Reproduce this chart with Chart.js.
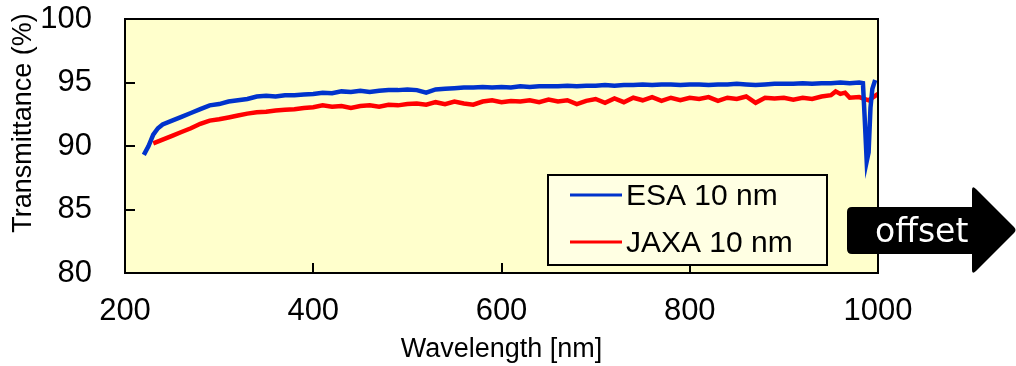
<!DOCTYPE html>
<html>
<head>
<meta charset="utf-8">
<script src="https://cdn.jsdelivr.net/npm/chart.js@4.4.1/dist/chart.umd.min.js"></script>
<style>
  html, body { margin: 0; padding: 0; background: #fff; }
  #wrap { width: 1016px; height: 366px; position: relative; }
</style>
</head>
<body>
<div id="wrap"><canvas id="lineChart" width="1016" height="366"></canvas></div>
<script>
// ESA 10 nm
var esaWavelength = [220, 225, 230, 235, 240, 250, 260, 270, 280, 290, 300, 310, 320, 330, 340, 350, 360, 370, 380, 390,
    400, 410, 420, 430, 440, 450, 460, 470, 480, 490, 500, 510, 520, 530, 540, 550, 560, 570, 580, 590,
    600, 610, 620, 630, 640, 650, 660, 670, 680, 690, 700, 710, 720, 730, 740, 750, 760, 770, 780, 790,
    800, 810, 820, 830, 840, 850, 860, 870, 880, 890, 900, 910, 920, 930, 940, 950, 960, 970, 980, 984,
    986, 988, 990, 992, 994, 997];
var esaValues = [89.3, 90.0, 90.9, 91.4, 91.7, 92.0, 92.3, 92.6, 92.9, 93.2, 93.3, 93.5, 93.6, 93.7, 93.9, 93.95, 93.9, 94.0, 94.0, 94.05,
    94.1, 94.2, 94.15, 94.3, 94.25, 94.35, 94.25, 94.35, 94.4, 94.4, 94.45, 94.4, 94.2, 94.45, 94.5, 94.55, 94.6, 94.6, 94.65, 94.6,
    94.65, 94.6, 94.7, 94.65, 94.7, 94.7, 94.7, 94.75, 94.7, 94.75, 94.75, 94.8, 94.75, 94.8, 94.8, 94.85, 94.8, 94.85, 94.85, 94.8,
    94.85, 94.85, 94.8, 94.85, 94.85, 94.9, 94.85, 94.8, 94.85, 94.9, 94.9, 94.9, 94.95, 94.9, 94.95, 94.95, 95.0, 94.95, 95.0, 94.95,
    92.0, 88.8, 89.5, 93.0, 94.5, 95.2];

// JAXA 10 nm
var jaxaWavelength = [230, 240, 250, 260, 270, 280, 290, 300, 310, 320, 330, 340, 350, 360, 370, 380, 390,
    400, 410, 420, 430, 440, 450, 460, 470, 480, 490, 500, 510, 520, 530, 540, 550, 560, 570, 580, 590,
    600, 610, 620, 630, 640, 650, 660, 670, 680, 690, 700, 710, 720, 730, 740, 750, 760, 770, 780, 790,
    800, 810, 820, 830, 840, 850, 860, 870, 880, 890, 900, 910, 920, 930, 940, 950, 955, 960, 965, 970,
    980, 990, 1000];
var jaxaValues = [90.2, 90.5, 90.8, 91.1, 91.4, 91.75, 92.0, 92.1, 92.25, 92.4, 92.55, 92.65, 92.7, 92.8, 92.85, 92.9, 93.0,
    93.05, 93.2, 93.1, 93.15, 93.0, 93.15, 93.2, 93.1, 93.25, 93.2, 93.3, 93.35, 93.25, 93.45, 93.3, 93.5, 93.35, 93.25, 93.5, 93.6,
    93.45, 93.55, 93.5, 93.6, 93.45, 93.65, 93.5, 93.6, 93.3, 93.55, 93.7, 93.4, 93.75, 93.45, 93.8, 93.6, 93.85, 93.55, 93.8, 93.6,
    93.8, 93.7, 93.85, 93.55, 93.8, 93.7, 93.9, 93.4, 93.8, 93.75, 93.8, 93.65, 93.8, 93.7, 93.9, 94.0, 94.3, 94.1, 94.2, 93.8,
    93.85, 93.6, 94.1];

var xTicks = [200, 400, 600, 800, 1000];
var yTicks = [80, 85, 90, 95, 100];

function toPoints(xs, ys) {
    var pts = [];
    for (var i = 0; i < xs.length; i++) {
        pts.push({x: xs[i], y: ys[i]});
    }
    return pts;
}

var frameAndExtras = {
    id: 'frameAndExtras',
    beforeDatasetsDraw: function(chart) {
        var c = chart.ctx, a = chart.chartArea;
        c.save();
        c.fillStyle = '#FFFFCC';
        c.fillRect(a.left, a.top, a.right - a.left, a.bottom - a.top);
        c.restore();
    },
    afterDatasetsDraw: function(chart) {
        var c = chart.ctx, a = chart.chartArea;
        var xs = chart.scales.x, ys = chart.scales.y;
        c.save();
        // inward ticks
        c.strokeStyle = '#000';
        c.lineWidth = 2;
        c.beginPath();
        xTicks.forEach(function(v) {
            var px = Math.round(xs.getPixelForValue(v));
            c.moveTo(px, a.bottom);
            c.lineTo(px, a.bottom - 10);
        });
        yTicks.forEach(function(v) {
            var py = Math.round(ys.getPixelForValue(v));
            c.moveTo(a.left, py);
            c.lineTo(a.left + 10, py);
        });
        c.stroke();

        // legend box
        var lx = 548, ly = 175, lw = 279, lh = 90;
        c.fillStyle = '#FFFFE3';
        c.fillRect(lx, ly, lw, lh);
        c.lineWidth = 2;
        c.strokeRect(lx, ly, lw, lh);
        c.font = '30px "Liberation Sans", Arial, sans-serif';
        c.textBaseline = 'alphabetic';
        c.textAlign = 'left';
        chart.data.datasets.forEach(function(ds, i) {
            var yy = 195 + i * 47;
            c.strokeStyle = ds.borderColor;
            c.lineWidth = 3;
            c.beginPath();
            c.moveTo(570, yy);
            c.lineTo(622, yy);
            c.stroke();
            c.fillStyle = '#000';
            c.fillText(ds.label, 626, yy + 10);
        });

        // plot frame
        c.strokeStyle = '#000';
        c.lineWidth = 2;
        c.strokeRect(a.left, a.top, a.right - a.left, a.bottom - a.top);
        c.restore();
    },
    afterDraw: function(chart) {
        var c = chart.ctx;
        c.save();
        // y axis title, sits a bit above the centre of the axis
        c.fillStyle = '#000';
        c.font = '27px "Liberation Sans", Arial, sans-serif';
        c.textAlign = 'center';
        c.textBaseline = 'middle';
        c.translate(24, 123);
        c.rotate(-Math.PI / 2);
        c.fillText('Transmittance (%)', 0, 0);
        c.restore();

        c.save();
        // "offset" arrow
        c.fillStyle = '#000';
        c.beginPath();
        c.moveTo(852, 207);
        c.lineTo(972, 207);
        c.lineTo(972, 190);
        c.quadraticCurveTo(972, 185, 976, 189);
        c.lineTo(1014, 227);
        c.quadraticCurveTo(1017, 230, 1014, 233);
        c.lineTo(976, 271);
        c.quadraticCurveTo(972, 275, 972, 270);
        c.lineTo(972, 254);
        c.lineTo(852, 254);
        c.quadraticCurveTo(847, 254, 847, 249);
        c.lineTo(847, 212);
        c.quadraticCurveTo(847, 207, 852, 207);
        c.closePath();
        c.fill();
        c.fillStyle = '#fff';
        c.font = '33px "DejaVu Sans", Verdana, sans-serif';
        c.textAlign = 'left';
        c.textBaseline = 'alphabetic';
        c.fillText('offset', 875, 242);
        c.restore();
    }
};

var ctx = document.getElementById('lineChart').getContext('2d');
var lineChart = new Chart(ctx, {
    type: 'line',
    data: {
        datasets: [
            {
                label: 'ESA 10 nm',
                data: toPoints(esaWavelength, esaValues),
                borderColor: '#0033CC',
                borderWidth: 4.5,
                pointRadius: 0,
                tension: 0,
                fill: false
            },
            {
                label: 'JAXA 10 nm',
                data: toPoints(jaxaWavelength, jaxaValues),
                borderColor: '#FF0000',
                borderWidth: 4.5,
                pointRadius: 0,
                tension: 0,
                fill: false
            }
        ]
    },
    options: {
        responsive: false,
        animation: false,
        events: [],
        layout: { padding: { top: 19, right: 138, left: 0, bottom: 0 } },
        plugins: {
            legend: { display: false },
            tooltip: { enabled: false }
        },
        scales: {
            x: {
                type: 'linear',
                min: 200,
                max: 1000,
                afterFit: function(scale) {
                    scale.height = 93;
                    scale.paddingLeft = 0;
                    scale.paddingRight = 0;
                },
                afterBuildTicks: function(scale) {
                    scale.ticks = xTicks.map(function(v) { return {value: v}; });
                },
                grid: { display: false, drawTicks: false },
                border: { display: false },
                ticks: {
                    color: '#000',
                    padding: 20,
                    maxRotation: 0,
                    callback: function(v) { return String(v); },
                    font: { family: '"Liberation Sans", Arial, sans-serif', size: 31 }
                },
                title: {
                    display: true,
                    text: 'Wavelength [nm]',
                    color: '#000',
                    padding: { top: 0, bottom: 0 },
                    font: { family: '"Liberation Sans", Arial, sans-serif', size: 27 }
                }
            },
            y: {
                type: 'linear',
                min: 80,
                max: 100,
                afterFit: function(scale) {
                    scale.width = 125;
                    scale.paddingTop = 0;
                    scale.paddingBottom = 0;
                },
                afterBuildTicks: function(scale) {
                    scale.ticks = yTicks.map(function(v) { return {value: v}; });
                },
                grid: { display: false, drawTicks: false },
                border: { display: false },
                ticks: {
                    color: '#000',
                    padding: 33,
                    callback: function(v) { return String(v); },
                    font: { family: '"Liberation Sans", Arial, sans-serif', size: 31 }
                },
                title: { display: false }
            }
        }
    },
    plugins: [frameAndExtras]
});
</script>
</body>
</html>
